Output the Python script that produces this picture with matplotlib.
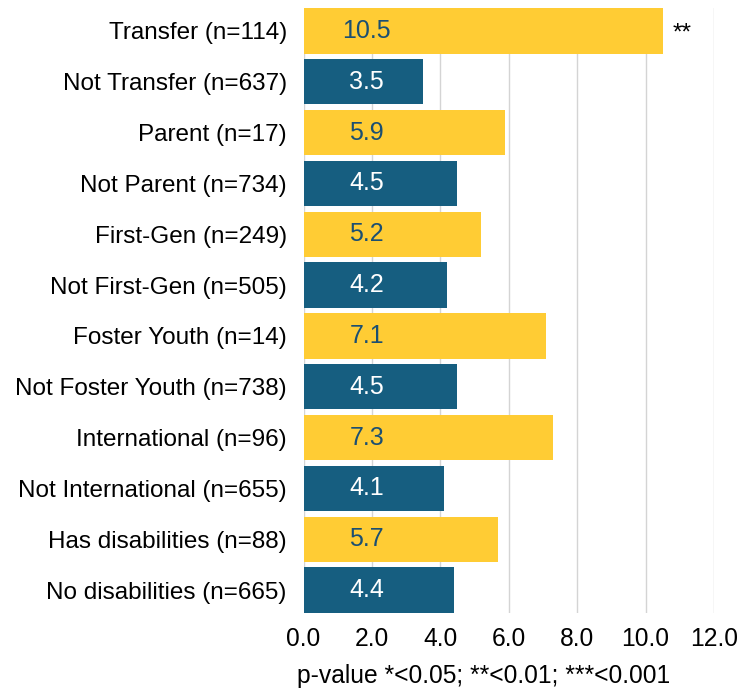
import matplotlib
matplotlib.use("Agg")
import matplotlib.pyplot as plt

categories = ["Transfer (n=114)", "Not Transfer (n=637)", "Parent (n=17)", "Not Parent (n=734)",
              "First-Gen (n=249)", "Not First-Gen (n=505)", "Foster Youth (n=14)",
              "Not Foster Youth (n=738)", "International (n=96)", "Not International (n=655)",
              "Has disabilities (n=88)", "No disabilities (n=665)"]
values = [10.5, 3.5, 5.9, 4.5, 5.2, 4.2, 7.1, 4.5, 7.3, 4.1, 5.7, 4.4]
significance = ["**", "", "", "", "", "", "", "", "", "", "", ""]
xticks = [0, 2, 4, 6, 8, 10, 12]
xlabel = "p-value *<0.05; **<0.01; ***<0.001"

yellow = "#FFCC34"
blue = "#165E80"

plt.rcParams['font.family'] = ['Liberation Sans', 'DejaVu Sans']
fig = plt.figure(figsize=(7.54, 6.93), dpi=100)
ax = fig.add_axes([303.5/754, 1-613/693, (714-303.5)/754, (613-8)/693])

n = len(values)
ypos = list(range(n))
colors = [yellow if i % 2 == 0 else blue for i in range(n)]
ax.barh(ypos, values, height=0.89, color=colors, zorder=2)
for i, (v, s) in enumerate(zip(values, significance)):
    tc = "#1B4F72" if i % 2 == 0 else "white"
    ax.text(1.85, i, f"{v:.1f}", ha="center", va="center", color=tc, fontsize=18, zorder=3)
    if s:
        ax.text(v + 0.3, i + 0.05, s, ha="left", va="center", color="black", fontsize=17.5)

ax.set_ylim(n - 0.55, -0.45)
ax.set_xlim(0, 12)
ax.set_yticks(ypos)
ax.set_yticklabels(categories, fontsize=17.5)
ax.set_xticks(xticks)
ax.set_xticklabels([f"{t:.1f}" for t in xticks], fontsize=17.7)
ax.tick_params(axis="both", length=0)
ax.tick_params(axis="y", pad=12)
ax.tick_params(axis="x", pad=10)
for sp in ax.spines.values():
    sp.set_visible(False)
ax.grid(axis="x", color="#d4d4d4", linewidth=1, zorder=0)
ax.set_axisbelow(True)
fig.text(484/754, 1-676/693, xlabel, ha="center", va="center", fontsize=17.7)

fig.savefig("out.png", dpi=100)
